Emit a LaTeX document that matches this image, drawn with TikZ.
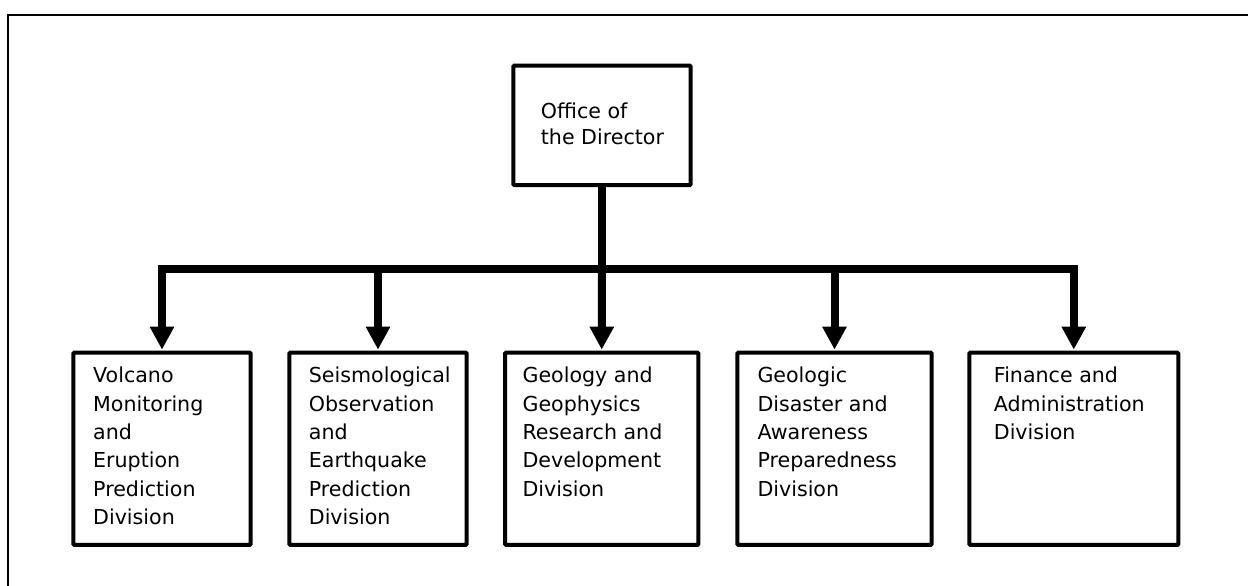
\documentclass[tikz,border=0pt]{standalone}
\usepackage{fontspec}
\setmainfont{DejaVu Sans}
\usetikzlibrary{arrows.meta}
\newcommand{\divtext}[1]{\parbox[t]{8cm}{\raggedright #1}}
\tikzset{
  orgbox/.style={draw=black, line width=4pt, rectangle, inner sep=0pt, rounded corners=1pt},
  lbl/.style={inner sep=0pt, anchor=base west, font=\fontsize{20.6}{28.3}\selectfont},
  toplbl/.style={inner sep=0pt, anchor=base west, font=\fontsize{20.6}{26}\selectfont},
  conn/.style={draw=black, line width=8pt, line join=miter},
  arr/.style={conn, -{Triangle[width=23pt,length=23pt]}, shorten >=1pt},
  frame/.style={draw=black, line width=1.6pt}
}
\begin{document}
\begin{tikzpicture}[x=1pt, y=-1pt]
\useasboundingbox (0,0) rectangle (1248,586);
\fill[white] (0,0) rectangle (1248,586);
\draw[frame] (8,586) -- (8,15) -- (1248,15);

\node[orgbox, minimum width=177.4pt, minimum height=119.5pt] (top) at (602,125.3) {};
\node[toplbl] (ttop) at ([xshift=29.4pt,yshift=-54.5pt]top.north west) {\divtext{Office of\\the Director}};

\node[orgbox, minimum width=177.4pt, minimum height=192.3pt] (b1) at (162,448.8) {};
\node[orgbox, minimum width=177.4pt, minimum height=192.3pt] (b2) at (378,448.8) {};
\node[orgbox, minimum width=193.3pt, minimum height=192.3pt] (b3) at (601.7,448.8) {};
\node[orgbox, minimum width=194.4pt, minimum height=192.3pt] (b4) at (834.5,448.8) {};
\node[orgbox, minimum width=209pt, minimum height=192.3pt] (b5) at (1073.8,448.8) {};

\node[lbl] (t1) at ([xshift=21.7pt,yshift=-32.3pt]b1.north west) {\divtext{Volcano\\Monitoring\\and\\Eruption\\Prediction\\Division}};
\node[lbl] (t2) at ([xshift=21.4pt,yshift=-32.3pt]b2.north west) {\divtext{Seismological\\Observation\\and\\Earthquake\\Prediction\\Division}};
\node[lbl] (t3) at ([xshift=19.3pt,yshift=-32.3pt]b3.north west) {\divtext{Geology and\\Geophysics\\Research and\\Development\\Division}};
\node[lbl] (t4) at ([xshift=22pt,yshift=-32.3pt]b4.north west) {\divtext{Geologic\\Disaster and\\Awareness\\Preparedness\\Division}};
\node[lbl] (t5) at ([xshift=26.4pt,yshift=-32.3pt]b5.north west) {\divtext{Finance and\\Administration\\Division}};

\coordinate (j) at (602,269);
\draw[conn] (top.south) -- (j);
\draw[arr] (j) -| (b1.north);
\draw[arr] (j) -| (b2.north);
\draw[arr] (j) -- (b3.north);
\draw[arr] (j) -| (b4.north);
\draw[arr] (j) -| (b5.north);
\end{tikzpicture}
\end{document}
